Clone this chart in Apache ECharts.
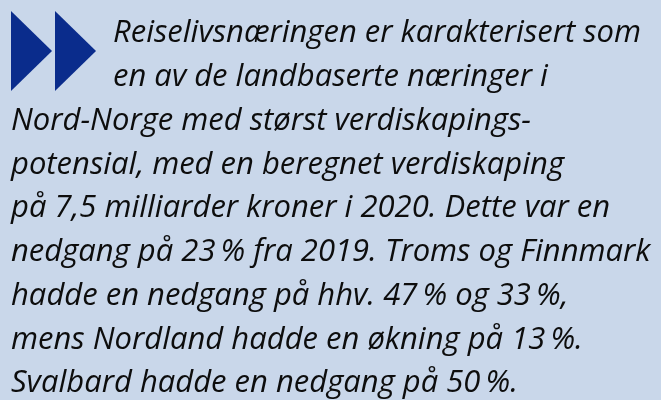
<!DOCTYPE html>
<html>
<head>
<meta charset="utf-8">
<script src="https://cdn.jsdelivr.net/npm/echarts@6/dist/echarts.min.js"></script>
<style>
  html, body { margin: 0; padding: 0; background: #c9d7ea; }
  #main { width: 661px; height: 400px; }
</style>
</head>
<body>
<div id="main"></div>
<script>
// tekstlinjer i faktaboksen
const lines = [
  "Reiselivsnæringen er karakterisert som",
  "en av de landbaserte næringer i",
  "Nord-Norge med størst verdiskapings-",
  "potensial, med en beregnet verdiskaping",
  "på 7,5 milliarder kroner i 2020. Dette var en",
  "nedgang på 23 % fra 2019. Troms og Finnmark",
  "hadde en nedgang på hhv. 47 % og 33 %,",
  "mens Nordland hadde en økning på 13 %.",
  "Svalbard hadde en nedgang på 50 %."
];
// innrykk for de to første linjene (ved siden av ikonet)
const indent = [113, 113, 11, 11, 11, 11, 11, 11, 11];

const myChart = echarts.init(document.getElementById("main"));

const elements = [];

// ikon: to trekanter
[11, 55].forEach((x0) => {
  elements.push({
    type: "polygon",
    shape: { points: [[x0, 11], [x0 + 41, 51], [x0, 91]] },
    style: { fill: "#0a2c8c" },
  });
});

lines.forEach((txt, i) => {
  elements.push({
    type: "text",
    x: indent[i],
    y: 43 + i * 43.75 - 25,
    style: {
      text: txt.replace(/ %/g, "\u2009%"),
      font: "italic 31px 'Open Sans'",
      fill: "#0d0d0d",
      verticalAlign: "top",
    },
  });
});

myChart.setOption({
  backgroundColor: "#c9d7ea",
  graphic: { elements },
});
</script>
</body>
</html>
